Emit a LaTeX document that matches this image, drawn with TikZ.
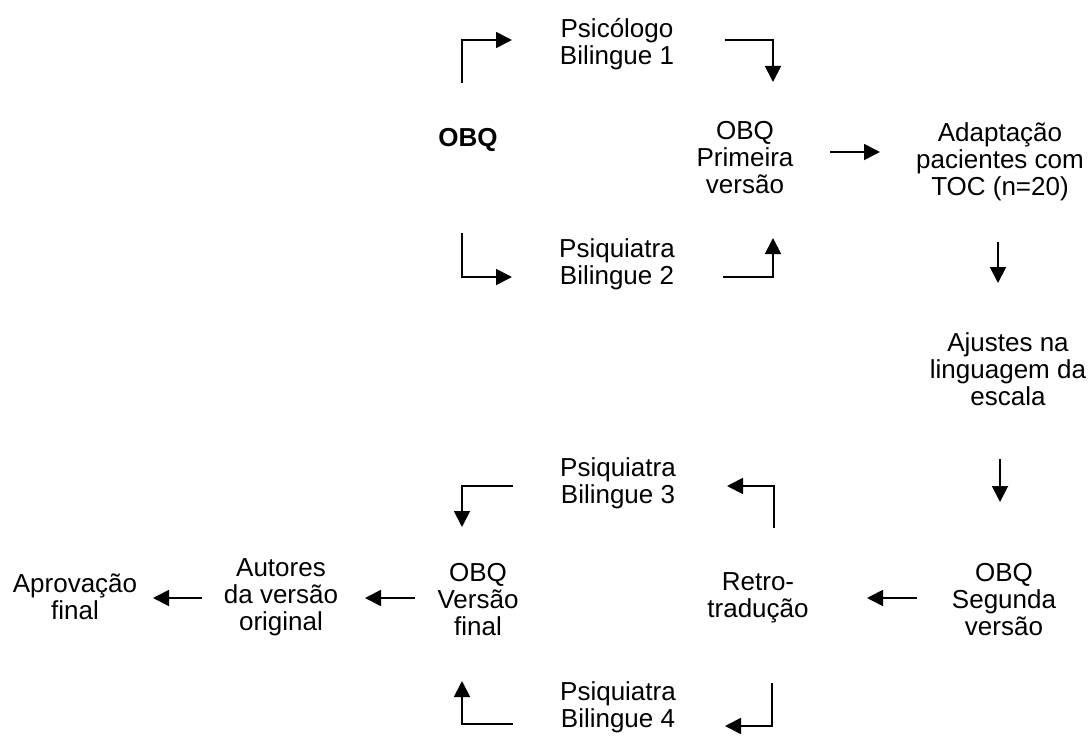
\documentclass[tikz,border=0pt]{standalone}
\usepackage{fontspec}
\setmainfont{Liberation Sans}
\usetikzlibrary{arrows.meta}
\begin{document}
\begin{tikzpicture}[x=0.75pt,y=-0.75pt,
  lbl/.style={align=center,inner sep=0pt,font=\fontsize{19.5}{20.25}\selectfont},
  conn/.style={line width=1.4pt,-{Triangle[length=12pt,width=12pt]}}]
\useasboundingbox (0,0) rectangle (1088,735);
% nodes
\node[lbl,font=\fontsize{19.5}{20.25}\selectfont\bfseries] (obq) at (468,140) {OBQ};
\node[lbl] (psi1) at (617,44) {Psicólogo\\Bilingue 1};
\node[lbl] (psi2) at (617,264) {Psiquiatra\\Bilingue 2};
\node[lbl] (obq1) at (745,158) {OBQ\\Primeira\\versão};
\node[lbl] (adapt) at (1000,162) {Adaptação\\pacientes com\\TOC (n=20)};
\node[lbl] (ajust) at (1008,369) {Ajustes na\\linguagem da\\escala};
\node[lbl] (seg) at (1004,600) {OBQ\\Segunda\\versão};
\node[lbl] (retro) at (758,598) {Retro-\\tradução};
\node[lbl] (psi3) at (618,483) {Psiquiatra\\Bilingue 3};
\node[lbl] (psi4) at (618,707) {Psiquiatra\\Bilingue 4};
\node[lbl] (final) at (478,600) {OBQ\\Versão\\final};
\node[lbl] (autores) at (281,597) {Autores\\da versão\\original};
\node[lbl] (aprov) at (75,597) {Aprovação\\final};
% connector ends
\coordinate (a1s) at (462,83);  \coordinate (a1e) at (512,40);
\coordinate (a2s) at (462,233); \coordinate (a2e) at (512,277);
\coordinate (a3s) at (725,40);  \coordinate (a3e) at (773,82);
\coordinate (a4s) at (723,277); \coordinate (a4e) at (773,238);
\coordinate (a5s) at (830,152); \coordinate (a5e) at (880,152);
\coordinate (a6s) at (998,242); \coordinate (a6e) at (998,283);
\coordinate (a7s) at (1000,459); \coordinate (a7e) at (1000,502);
\coordinate (a8s) at (917,598); \coordinate (a8e) at (867,598);
\coordinate (a9s) at (774,528); \coordinate (a9e) at (727,486);
\coordinate (a10s) at (772,683); \coordinate (a10e) at (725,726);
\coordinate (a11s) at (513,486); \coordinate (a11e) at (462,527);
\coordinate (a12s) at (513,724); \coordinate (a12e) at (462,681);
\coordinate (a13s) at (415,598); \coordinate (a13e) at (365,598);
\coordinate (a14s) at (202,598); \coordinate (a14e) at (153,598);
% connectors
\draw[conn] (a1s) |- (a1e);
\draw[conn] (a2s) |- (a2e);
\draw[conn] (a3s) -| (a3e);
\draw[conn] (a4s) -| (a4e);
\draw[conn] (a5s) -- (a5e);
\draw[conn] (a6s) -- (a6e);
\draw[conn] (a7s) -- (a7e);
\draw[conn] (a8s) -- (a8e);
\draw[conn] (a9s) |- (a9e);
\draw[conn] (a10s) |- (a10e);
\draw[conn] (a11s) -| (a11e);
\draw[conn] (a12s) -| (a12e);
\draw[conn] (a13s) -- (a13e);
\draw[conn] (a14s) -- (a14e);
\end{tikzpicture}
\end{document}
